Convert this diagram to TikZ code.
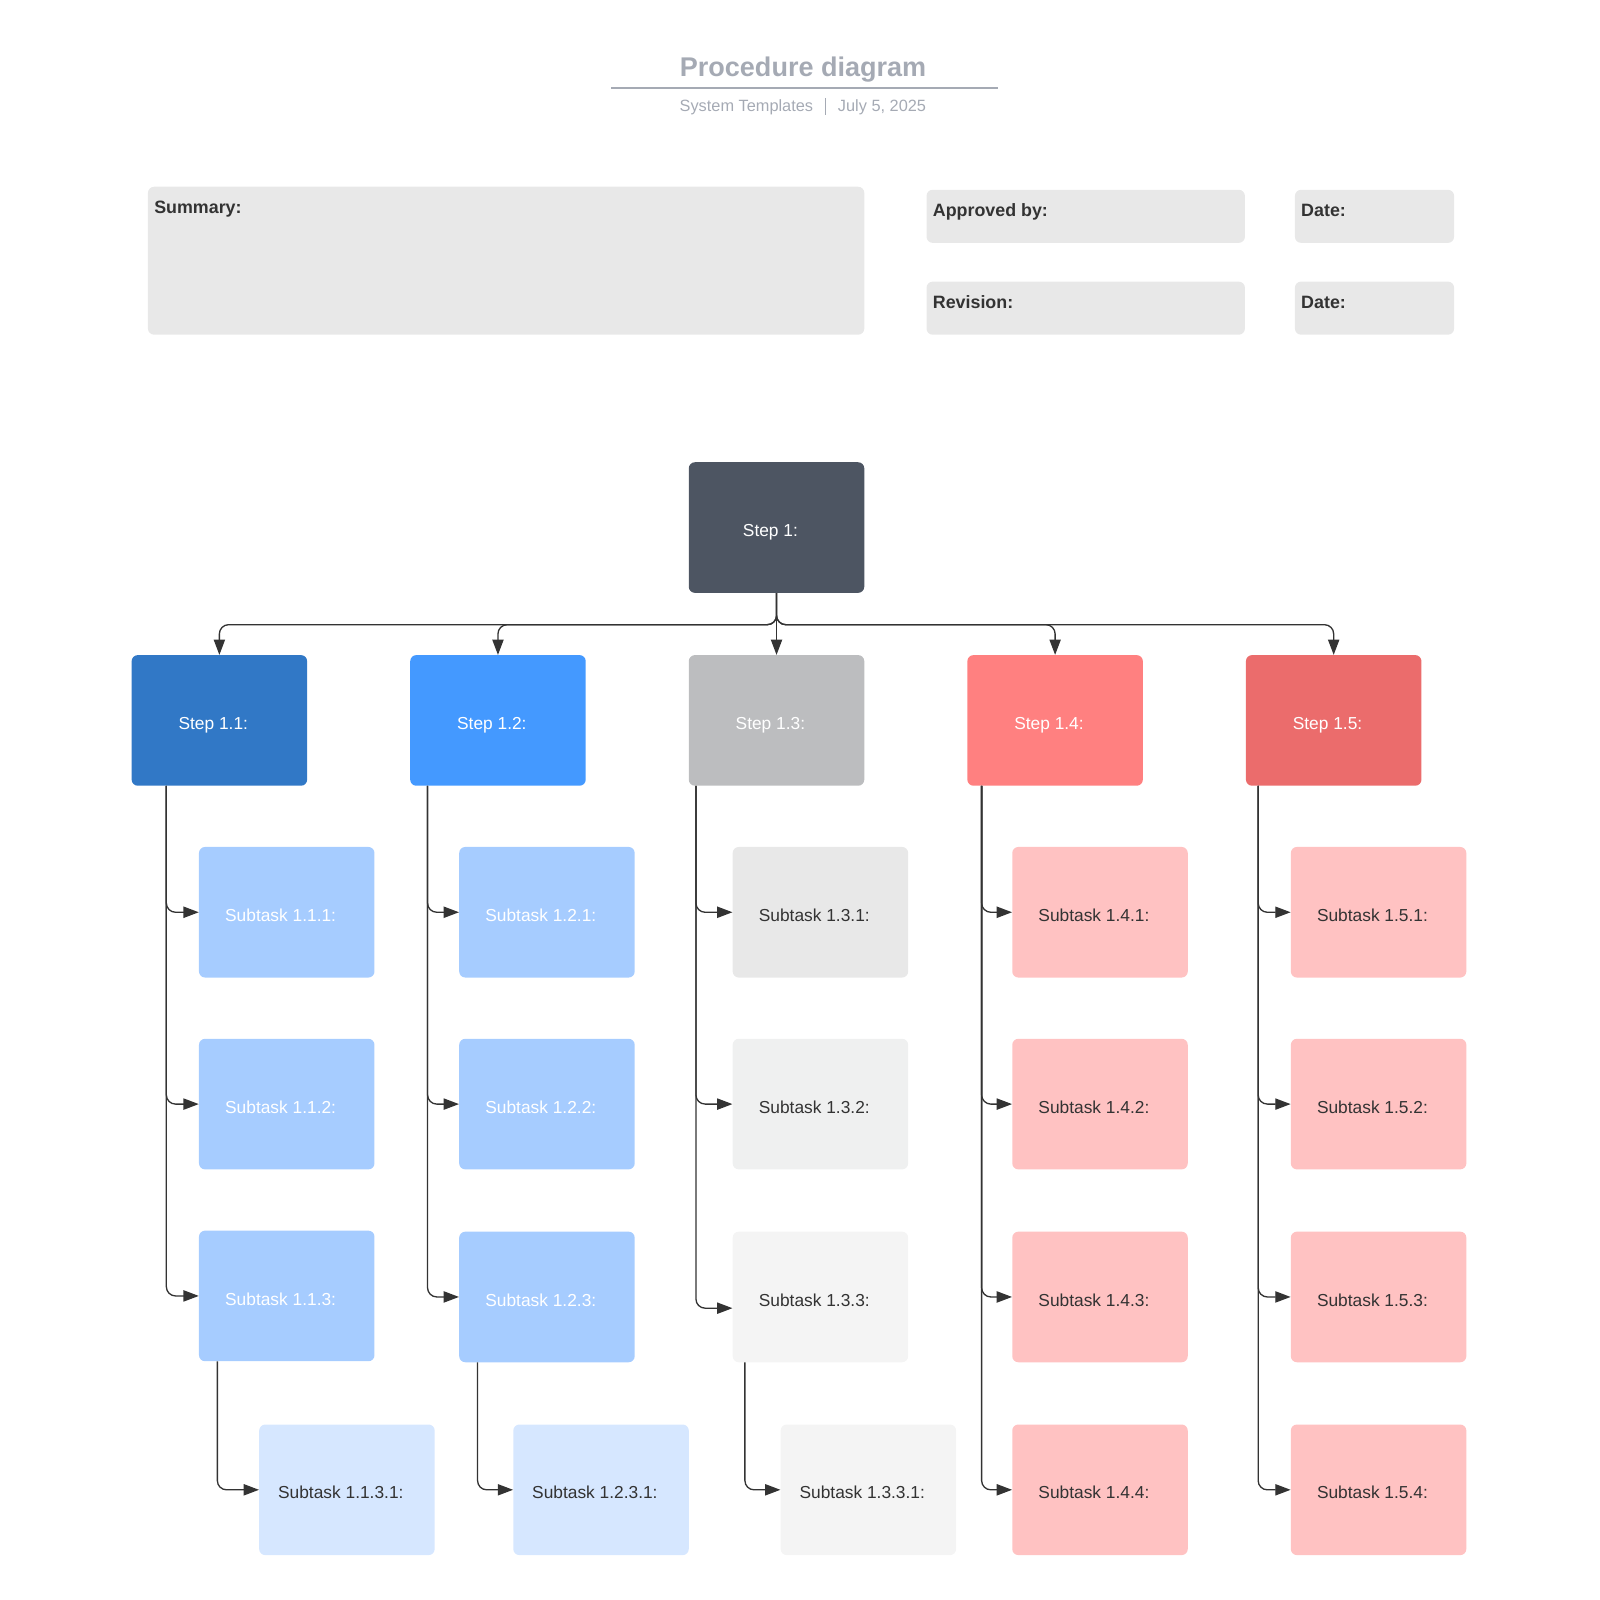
\documentclass[tikz,border=0pt]{standalone}
\usepackage{fontspec}
\setmainfont{Liberation Sans}
\usetikzlibrary{arrows.meta,calc}
\definecolor{ink}{HTML}{333333}
\definecolor{ttl}{HTML}{A5AAB4}
\definecolor{hdr}{HTML}{E8E8E8}
\definecolor{sone}{HTML}{4D5562}
\definecolor{cA}{HTML}{3178C6}
\definecolor{cB}{HTML}{4499FF}
\definecolor{cC}{HTML}{BCBDBF}
\definecolor{cD}{HTML}{FF8080}
\definecolor{cE}{HTML}{EB6C6C}
\definecolor{blueS}{HTML}{A6CCFF}
\definecolor{blueL}{HTML}{D6E7FF}
\definecolor{grayA}{HTML}{E8E8E8}
\definecolor{grayB}{HTML}{EFF0F0}
\definecolor{grayC}{HTML}{F4F4F4}
\definecolor{pinkS}{HTML}{FFC2C2}
\begin{document}
\begin{tikzpicture}[x=1pt,y=-1pt,
  card/.style={rounded corners=6pt, minimum width=172pt, minimum height=128pt, inner sep=0pt,
     text height=22pt, text depth=4pt,
     font=\fontsize{17}{20}\selectfont, execute at begin node={\hspace*{-12pt}}},
  wtxt/.style={card, text=white},
  dtxt/.style={card, text=ink},
  hbox/.style={fill=hdr, rounded corners=6pt, inner sep=0pt},
  hlab/.style={font=\fontsize{17.5}{20}\selectfont\bfseries, text=ink, inner sep=0pt, anchor=base west},
  conn/.style={draw=ink, line width=1.3pt, rounded corners=9pt, -{Triangle[length=15pt,width=11pt]}},
  trunk/.style={draw=ink, line width=1.3pt, rounded corners=9pt, -{Triangle[length=15pt,width=11pt]}}
]
\useasboundingbox (0,0) rectangle (1568,1568);
% title
\node[font=\fontsize{26.5}{30}\selectfont\bfseries, text=ttl, anchor=base, inner sep=0pt] (title) at (787,75) {Procedure diagram};
\coordinate (tl1) at (599,86);
\coordinate (tl2) at (978,86);
\draw[ttl, line width=2pt] (tl1) -- (tl2);
\node[font=\fontsize{16}{19}\selectfont, text=ttl, anchor=base east, inner sep=0pt] (sub1) at (797,109) {System Templates};
\node[font=\fontsize{16}{19}\selectfont, text=ttl, anchor=base west, inner sep=0pt] (sub2) at (821,109) {July 5, 2025};
\coordinate (sp1) at (809,96);
\coordinate (sp2) at (809,113);
\draw[ttl, line width=1pt] (sp1) -- (sp2);
% header boxes
\node[hbox, minimum width=702pt, minimum height=145pt] (summ) at (496,255.5) {};
\node[hlab] (summl) at (151,209) {Summary:};
\node[hbox, minimum width=312pt, minimum height=52pt] (appr) at (1064,212) {};
\node[hlab] (apprl) at (914,212) {Approved by:};
\node[hbox, minimum width=156pt, minimum height=52pt] (dat1) at (1347,212) {};
\node[hlab] (dat1l) at (1275,212) {Date:};
\node[hbox, minimum width=312pt, minimum height=52pt] (revi) at (1064,302) {};
\node[hlab] (revil) at (914,302) {Revision:};
\node[hbox, minimum width=156pt, minimum height=52pt] (dat2) at (1347,302) {};
\node[hlab] (dat2l) at (1275,302) {Date:};
% steps
\node[wtxt, fill=sone] (s1) at (761,517) {Step 1:};
\node[wtxt, fill=cA] (s11) at (215,706) {Step 1.1:};
\node[wtxt, fill=cB] (s12) at (488,706) {Step 1.2:};
\node[wtxt, fill=cC] (s13) at (761,706) {Step 1.3:};
\node[wtxt, fill=cD] (s14) at (1034,706) {Step 1.4:};
\node[wtxt, fill=cE] (s15) at (1307,706) {Step 1.5:};
% column 1
\node[wtxt, fill=blueS] (t111) at (281,894) {Subtask 1.1.1:};
\node[wtxt, fill=blueS] (t112) at (281,1082) {Subtask 1.1.2:};
\node[wtxt, fill=blueS] (t113) at (281,1270) {Subtask 1.1.3:};
\node[dtxt, fill=blueL] (t1131) at (340,1460) {Subtask 1.1.3.1:};
% column 2
\node[wtxt, fill=blueS] (t121) at (536,894) {Subtask 1.2.1:};
\node[wtxt, fill=blueS] (t122) at (536,1082) {Subtask 1.2.2:};
\node[wtxt, fill=blueS] (t123) at (536,1271) {Subtask 1.2.3:};
\node[dtxt, fill=blueL] (t1231) at (589,1460) {Subtask 1.2.3.1:};
% column 3
\node[dtxt, fill=grayA] (t131) at (804,894) {Subtask 1.3.1:};
\node[dtxt, fill=grayB] (t132) at (804,1082) {Subtask 1.3.2:};
\node[dtxt, fill=grayC] (t133) at (804,1271) {Subtask 1.3.3:};
\node[dtxt, fill=grayC] (t1331) at (851,1460) {Subtask 1.3.3.1:};
% column 4
\node[dtxt, fill=pinkS] (t141) at (1078,894) {Subtask 1.4.1:};
\node[dtxt, fill=pinkS] (t142) at (1078,1082) {Subtask 1.4.2:};
\node[dtxt, fill=pinkS] (t143) at (1078,1271) {Subtask 1.4.3:};
\node[dtxt, fill=pinkS] (t144) at (1078,1460) {Subtask 1.4.4:};
% column 5
\node[dtxt, fill=pinkS] (t151) at (1351,894) {Subtask 1.5.1:};
\node[dtxt, fill=pinkS] (t152) at (1351,1082) {Subtask 1.5.2:};
\node[dtxt, fill=pinkS] (t153) at (1351,1271) {Subtask 1.5.3:};
\node[dtxt, fill=pinkS] (t154) at (1351,1460) {Subtask 1.5.4:};
% step 1 fan-out
\foreach \n in {s11,s12,s14,s15}{
  \draw[conn] (s1.south) -- ++(0,31) -| (\n.north);
}
\draw[conn, rounded corners=0pt] (s1.south) -- (s13.north);
% trunks
\foreach \s/\dx/\a/\b/\c in {s11/-52/t111/t112/t113, s12/-69/t121/t122/t123, s14/-72/t141/t142/t143, s15/-74/t151/t152/t153}{
  \draw[trunk] ($(\s.south)+(\dx,0)$) |- (\a.west);
  \draw[trunk] ($(\s.south)+(\dx,0)$) |- (\b.west);
  \draw[trunk] ($(\s.south)+(\dx,0)$) |- (\c.west);
}
\draw[trunk] ($(s13.south)+(-79,0)$) |- (t131.west);
\draw[trunk] ($(s13.south)+(-79,0)$) |- (t132.west);
\draw[trunk] ($(s13.south)+(-79,0)$) |- ($(t133.west)+(0,11)$);
\draw[trunk] ($(s14.south)+(-72,0)$) |- (t144.west);
\draw[trunk] ($(s15.south)+(-74,0)$) |- (t154.west);
% sub-sub trunks
\draw[trunk] ($(t113.south)+(-68,0)$) |- (t1131.west);
\draw[trunk] ($(t123.south)+(-68,0)$) |- (t1231.west);
\draw[trunk] ($(t133.south)+(-74,0)$) |- (t1331.west);
\end{tikzpicture}
\end{document}
